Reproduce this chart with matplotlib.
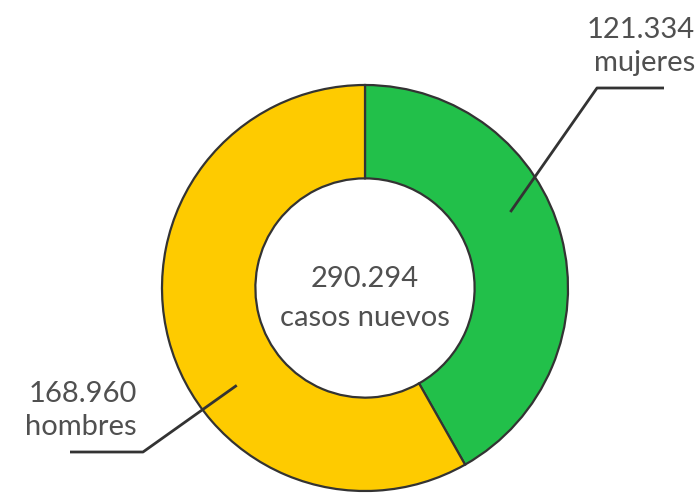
import numpy as np
import matplotlib.pyplot as plt

# casos nuevos por sexo
labels = ["mujeres", "hombres"]
values = [121334, 168960]
colors = ["#22C04A", "#FECB00"]

W, H = 700, 496


def fmt(n):
    return f"{n:,}".replace(",", ".")


plt.rcParams["font.family"] = ["Lato", "DejaVu Sans"]
txt_color = "#505050"
line_color = "#333333"

fig = plt.figure(figsize=(7, 4.96), dpi=100)
ax = fig.add_axes([0, 0, 1, 1])

cx, cy, r = 365, H - 288, 203
ax.pie(values, colors=colors, startangle=90, counterclock=False,
       center=(cx, cy), radius=r,
       wedgeprops=dict(width=0.46 * r, edgecolor=line_color, linewidth=1.6))

ax.set_xlim(0, W)
ax.set_ylim(0, H)
ax.set_aspect("equal")
ax.axis("off")

# center label
ax.text(cx, cy + 9, fmt(sum(values)), ha="center", va="center",
        fontsize=21, color=txt_color)
ax.text(cx, cy - 30, "casos nuevos", ha="center", va="center",
        fontsize=21, color=txt_color)

# leader lines: (anchor angle, anchor radius, elbow, end) and label position
leaders = {
    "mujeres": dict(ang=27.6, rad=164, elbow=(597, H - 88), end=(664, H - 88),
                    txt=(695, H - 30)),
    "hombres": dict(ang=-142.8, rad=161, elbow=(143, H - 452), end=(70, H - 452),
                    txt=(137, H - 394)),
}
for lab, v in zip(labels, values):
    d = leaders[lab]
    a = np.deg2rad(d["ang"])
    x0, y0 = cx + d["rad"] * np.cos(a), cy + d["rad"] * np.sin(a)
    ax.plot([x0, d["elbow"][0], d["end"][0]], [y0, d["elbow"][1], d["end"][1]],
            color=line_color, lw=2, solid_capstyle="butt")
    tx, ty = d["txt"]
    ax.text(tx, ty, fmt(v), ha="right", va="center", fontsize=21, color=txt_color)
    ax.text(tx, ty - 33, lab, ha="right", va="center", fontsize=21, color=txt_color)

fig.savefig("out.png", dpi=100)
